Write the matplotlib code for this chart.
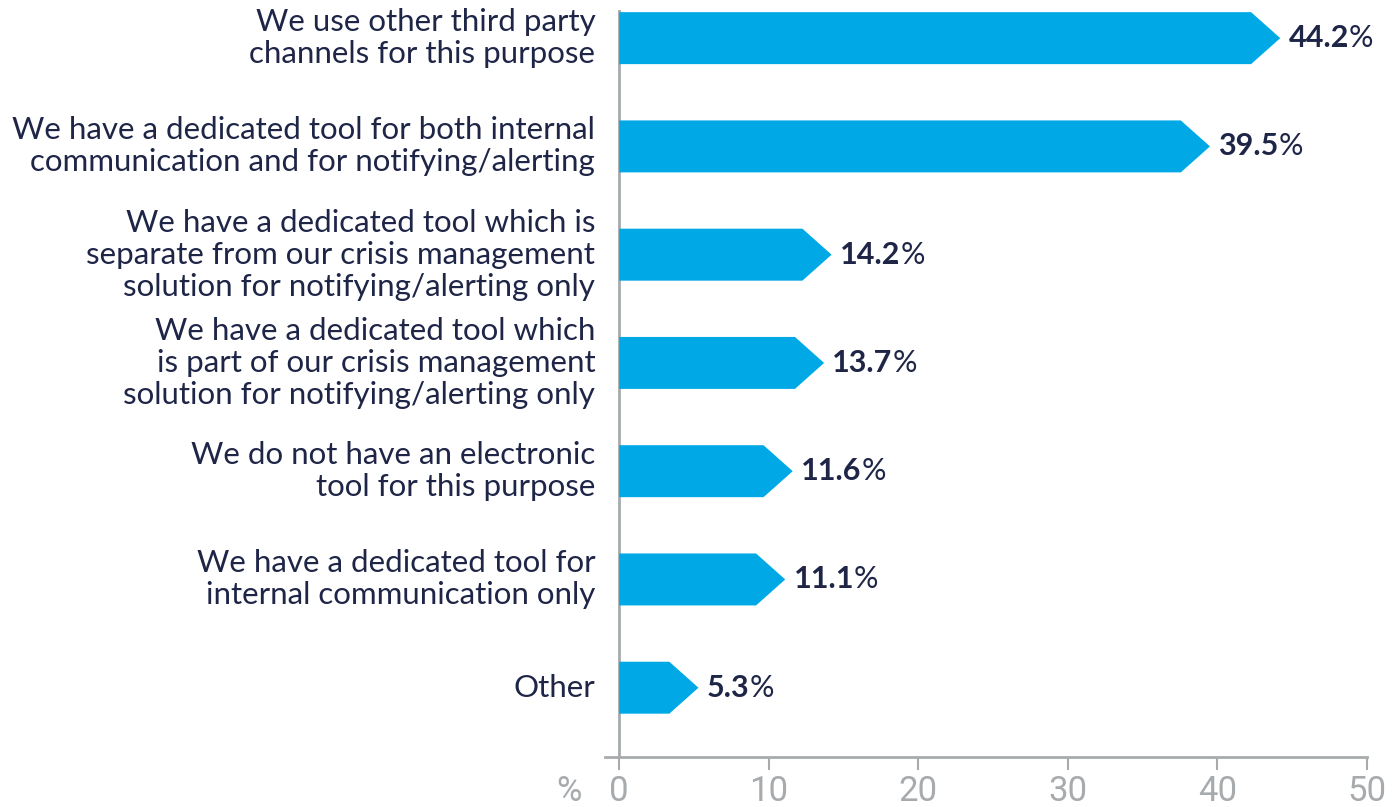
import matplotlib
matplotlib.use("Agg")
import matplotlib.pyplot as plt
from matplotlib.patches import Polygon

plt.rcParams['font.family'] = ['Lato', 'DejaVu Sans']

categories = [
    "We use other third party\nchannels for this purpose",
    "We have a dedicated tool for both internal\ncommunication and for notifying/alerting",
    "We have a dedicated tool which is\nseparate from our crisis management\nsolution for notifying/alerting only",
    "We have a dedicated tool which\nis part of our crisis management\nsolution for notifying/alerting only",
    "We do not have an electronic\ntool for this purpose",
    "We have a dedicated tool for\ninternal communication only",
    "Other",
]
values = [44.2, 39.5, 14.2, 13.7, 11.6, 11.1, 5.3]
xticks = [0, 10, 20, 30, 40, 50]

BAR_COLOR = "#00a9e6"
TEXT_COLOR = "#1e2547"
AXIS_COLOR = "#a7abad"
TICK_FONT = ['Roboto', 'DejaVu Sans']

fig = plt.figure(figsize=(13.99, 8.07), dpi=100)
ax = fig.add_axes([605 / 1399, 1 - 757 / 807, (1367 - 605) / 1399, (757 - 10) / 807])

bar_h = 0.48
head = 1.95
for i, v in enumerate(values):
    y0, y1 = i - bar_h / 2, i + bar_h / 2
    pts = [(0, y0), (v - head, y0), (v, i), (v - head, y1), (0, y1)]
    ax.add_patch(Polygon(pts, closed=True, facecolor=BAR_COLOR, edgecolor="none"))
    num = ax.annotate(f"{v:.1f}", xy=(v, i), xytext=(6, 0), textcoords="offset points",
                      ha="left", va="center", fontsize=22, fontweight="bold", color=TEXT_COLOR)
    ax.annotate("%", xy=(1, 0), xycoords=num, ha="left", va="bottom",
                fontsize=22, color=TEXT_COLOR)
    ax.text(-1.6, i, categories[i], ha="right", va="center", fontsize=22.5,
            color=TEXT_COLOR, linespacing=1.17)

ax.set_xlim(-0.95, 50)
ax.set_ylim(len(values) - 1 + 0.64, -0.26)

for s in ["top", "right", "left"]:
    ax.spines[s].set_visible(False)
ax.spines["bottom"].set_color(AXIS_COLOR)
ax.spines["bottom"].set_linewidth(2)
ax.axvline(0, color=AXIS_COLOR, lw=2, zorder=0)

ax.set_yticks([])
ax.set_xticks(xticks)
ax.set_xticklabels([str(t) for t in xticks], family=TICK_FONT, fontweight="normal")
ax.tick_params(axis="x", length=9, width=1.5, color=AXIS_COLOR, labelcolor=AXIS_COLOR,
               labelsize=25, pad=4)
ax.annotate("%", xy=(0, 0), xycoords="axes fraction", xytext=(-17, -13),
            textcoords="offset points", ha="right", va="top", fontsize=25,
            family=TICK_FONT, fontweight="normal", color=AXIS_COLOR)

fig.savefig("out.png", dpi=100)
